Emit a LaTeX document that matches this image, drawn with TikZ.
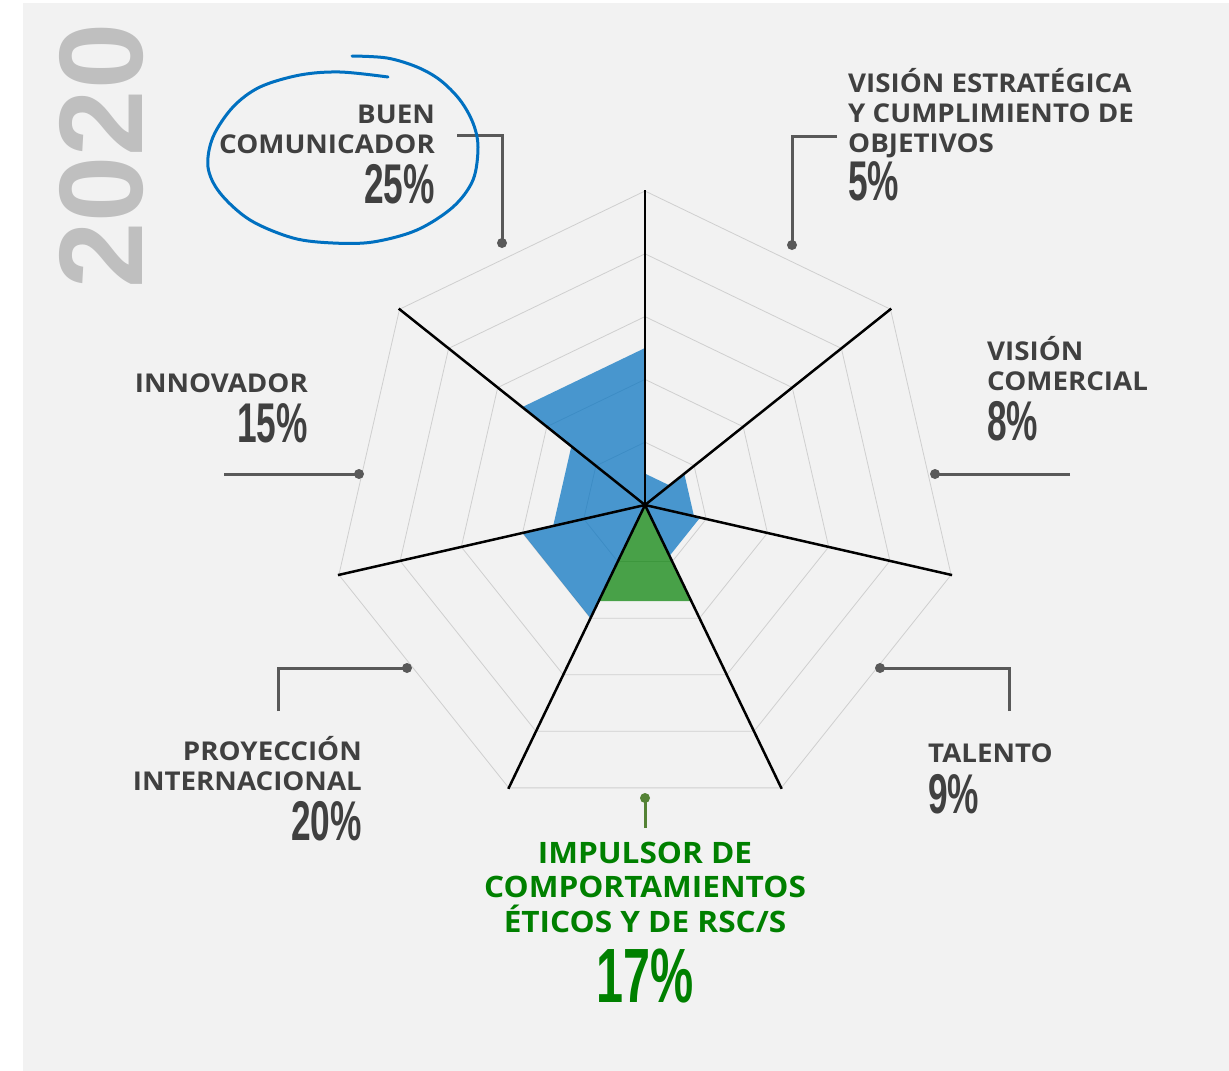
\documentclass[tikz,border=0pt]{standalone}
\usepackage{fontspec}
\setmainfont{Open Sans}[FakeStretch=1.07]
\newfontfamily\pctfont{Liberation Sans}[FakeStretch=0.63]
\newfontfamily\yearfont{Liberation Sans}
\definecolor{bggray}{HTML}{F2F2F2}
\definecolor{txtgray}{HTML}{404040}
\definecolor{leadgray}{HTML}{595959}
\definecolor{gridgray}{HTML}{CFCFCF}
\definecolor{yeargray}{HTML}{BFBFBF}
\definecolor{barblue}{HTML}{0070C0}
\definecolor{bargreen}{HTML}{008000}
\definecolor{leadgreen}{HTML}{548235}

\begin{document}
\begin{tikzpicture}[x=1bp, y=-1bp,
  lbl/.style={inner sep=0, text=txtgray, font=\bfseries\fontsize{25.9bp}{30bp}\selectfont},
  pct/.style={inner sep=0, text=txtgray, font=\pctfont\bfseries\fontsize{56bp}{56bp}\selectfont},
  dot/.style={circle, fill=leadgray, inner sep=0, minimum size=10bp},
  lead/.style={draw=leadgray, line width=3bp},
  ring/.style={draw=gridgray, line width=0.8bp},
  spoke/.style={draw=black, line width=2.5bp}]
 \useasboundingbox (0,0) rectangle (1229,1071);
 \fill[white] (0,0) rectangle (1229,1071);
 \fill[bggray] (23,3) rectangle (1229,1071);
 \node[rotate=90, inner sep=0, text=yeargray, font=\yearfont\bfseries\fontsize{119bp}{119bp}\selectfont] (year) at (102,156) {2020};

 % radar
 \begin{scope}[shift={(645,505)}]
  \foreach \i in {1,...,5}
   \draw[ring] (-90:{62.8*\i}) \foreach \k in {1,...,6} { -- ({-90+\k*360/7}:{62.8*\i}) } -- cycle;
  \foreach \v/\c [count=\k from 0] in {5/barblue, 8/barblue, 9/barblue, 17/bargreen, 20/barblue, 15/barblue, 25/barblue}
   \fill[\c, fill opacity=0.7] (0,0) -- ({-90+\k*360/7}:{6.28*\v}) -- ({-90+(\k+1)*360/7}:{6.28*\v}) -- cycle;
  \foreach \k in {0,...,6}
   \draw[spoke] (0,0) -- ({-90+\k*360/7}:315);
 \end{scope}

 % labels (base = last line)
 \node[lbl, align=right, anchor=base east] (buen) at (435,153) {BUEN\\COMUNICADOR};
 \node[pct, anchor=base east] (buenpct) at (435,203) {25\%};
 \node[lbl, align=left, anchor=base west] (vestr) at (848,152) {VISIÓN ESTRATÉGICA\\Y CUMPLIMIENTO DE\\OBJETIVOS};
 \node[pct, anchor=base west] (vestrpct) at (848,200) {5\%};
 \node[lbl, align=left, anchor=base west] (vcom) at (987,390) {VISIÓN\\COMERCIAL};
 \node[pct, anchor=base west] (vcompct) at (987,440) {8\%};
 \node[lbl, anchor=base west] (talento) at (928,762) {TALENTO};
 \node[pct, anchor=base west] (talentopct) at (928,813) {9\%};
 \node[lbl, anchor=base east] (innov) at (308,392) {INNOVADOR};
 \node[pct, anchor=base east] (innovpct) at (308,442) {15\%};
 \node[lbl, align=right, anchor=base east] (proy) at (362,790) {PROYECCIÓN\\INTERNACIONAL};
 \node[pct, anchor=base east] (proypct) at (362,840) {20\%};
 \node[lbl, text=bargreen, align=center, anchor=base, font=\bfseries\fontsize{29.5bp}{34.5bp}\selectfont] (impuls) at (645,932) {IMPULSOR DE\\COMPORTAMIENTOS\\ÉTICOS Y DE RSC/S};
 \node[pct, text=bargreen, anchor=base, font=\pctfont\bfseries\fontsize{77bp}{77bp}\selectfont] (impulspct) at (645,1002) {17\%};

 % leaders
 \node[dot] (dbuen) at (502,243) {};
 \node[dot] (dvestr) at (792,245) {};
 \node[dot] (dvcom) at (935,474) {};
 \node[dot] (dtalento) at (880,668) {};
 \node[dot, fill=leadgreen] (dimpuls) at (645,798) {};
 \node[dot] (dproy) at (407,668) {};
 \node[dot] (dinnov) at (359,474) {};
 \coordinate (ebuen) at (457,135);
 \coordinate (evestr) at (837,136);
 \coordinate (evcom) at (1070,474);
 \coordinate (etalento) at (1009,711);
 \coordinate (eimpuls) at (645,828);
 \coordinate (eproy) at (278,711);
 \coordinate (einnov) at (224,474);
 \draw[lead] (ebuen) -| (dbuen.center);
 \draw[lead] (evestr) -| (dvestr.center);
 \draw[lead] (evcom) -- (dvcom.center);
 \draw[lead] (etalento) |- (dtalento.center);
 \draw[lead, draw=leadgreen] (eimpuls) -- (dimpuls.center);
 \draw[lead] (eproy) |- (dproy.center);
 \draw[lead] (einnov) -- (dinnov.center);

 % hand drawn loop
 \draw[barblue, line width=3bp, line cap=round] plot[smooth, tension=0.55] coordinates {(388,77) (340,72) (300,75) (260,87) (233,107) (213,137) (208,167) (220,193) (250,220) (293,238) (333,243) (373,242) (417,230) (453,207) (473,180) (478,147) (473,123) (460,100) (440,80) (417,67) (387,58) (352,56)};
\end{tikzpicture}
\end{document}
